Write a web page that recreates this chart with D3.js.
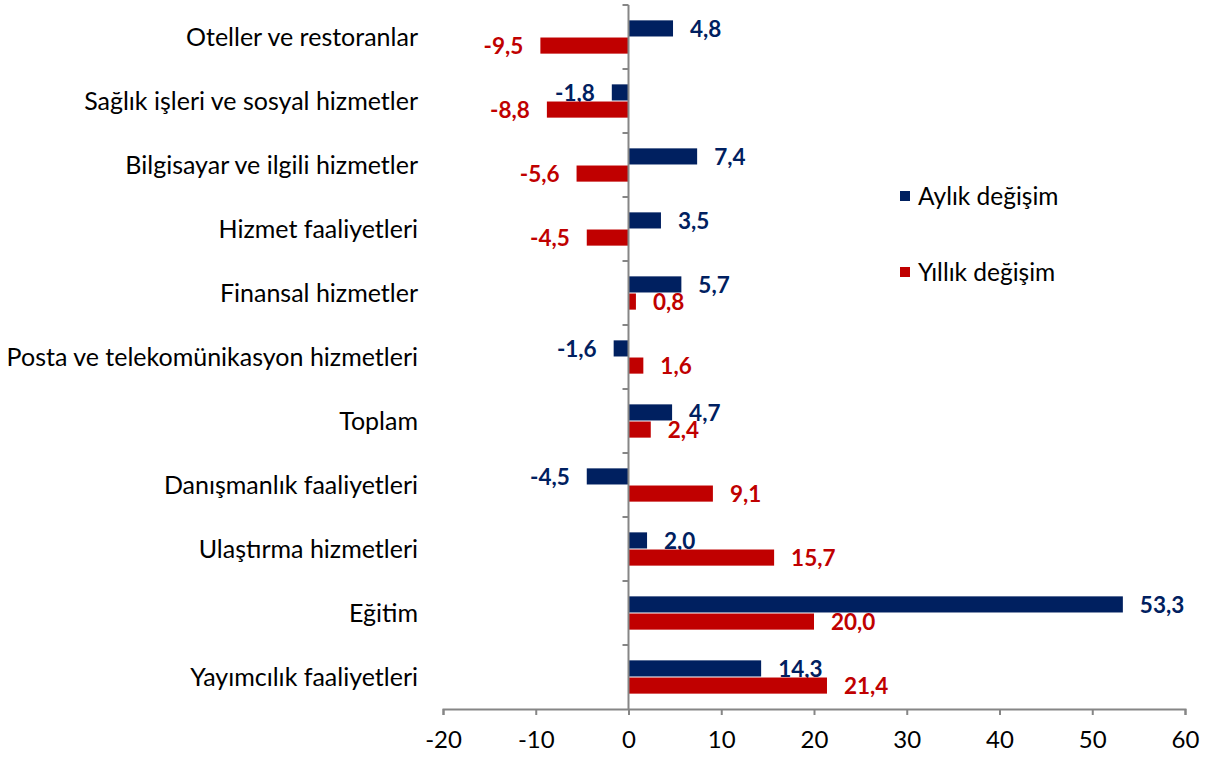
<!DOCTYPE html>
<html>
<head>
<meta charset="utf-8">
<script src="https://cdn.jsdelivr.net/npm/d3@7"></script>
<style>
  body { margin: 0; background: #fff; }
  svg { display: block; }
  text { font-family: Lato, "Open Sans", sans-serif; }
</style>
</head>
<body>
<svg id="chart"></svg>
<script>
const WIDTH = 1210;
const HEIGHT = 758;

const categories = [
  "Oteller ve restoranlar",
  "Sağlık işleri ve sosyal hizmetler",
  "Bilgisayar ve ilgili hizmetler",
  "Hizmet faaliyetleri",
  "Finansal hizmetler",
  "Posta ve telekomünikasyon hizmetleri",
  "Toplam",
  "Danışmanlık faaliyetleri",
  "Ulaştırma hizmetleri",
  "Eğitim",
  "Yayımcılık faaliyetleri"
];
const aylik = [4.8, -1.8, 7.4, 3.5, 5.7, -1.6, 4.7, -4.5, 2.0, 53.3, 14.3];
const yillik = [-9.5, -8.8, -5.6, -4.5, 0.8, 1.6, 2.4, 9.1, 15.7, 20.0, 21.4];
const seriesNames = ["Aylık değişim", "Yıllık değişim"];
const colors = ["#002060", "#C00000"];
const xTicks = [-20, -10, 0, 10, 20, 30, 40, 50, 60];

const svg = d3.select("#chart").attr("width", WIDTH).attr("height", HEIGHT);
const margin = { top: 5, right: 25, bottom: 49, left: 443 };

const x = d3.scaleLinear().domain([-20, 60]).range([margin.left, WIDTH - margin.right]);
const y = d3.scaleBand().domain(categories).range([margin.top, HEIGHT - margin.bottom]);
const ySub = d3.scaleBand().domain([0, 1]).range([y.bandwidth() * 0.24, y.bandwidth() * 0.76]).paddingInner(0.06);

const rows = categories.map((c, i) => ({ cat: c, vals: [aylik[i], yillik[i]] }));
const fmt = (v) => v.toFixed(1).replace(".", ",");

// bars + value labels
const g = svg.append("g");
rows.forEach((r) => {
  r.vals.forEach((v, s) => {
    const y0 = y(r.cat) + ySub(s);
    g.append("rect")
      .attr("x", x(Math.min(0, v)))
      .attr("y", y0)
      .attr("width", Math.abs(x(v) - x(0)))
      .attr("height", ySub.bandwidth())
      .attr("fill", colors[s]);
    g.append("text")
      .attr("x", v >= 0 ? x(v) + 17 : x(v) - 17)
      .attr("y", y0 + ySub.bandwidth() / 2)
      .attr("dy", "0.36em")
      .attr("text-anchor", v >= 0 ? "start" : "end")
      .attr("font-size", "22.5px")
      .attr("font-weight", "bold")
      .attr("fill", colors[s])
      .text(fmt(v));
  });
});

// x axis
const xAxis = svg.append("g")
  .attr("transform", `translate(0, ${HEIGHT - margin.bottom})`)
  .call(d3.axisBottom(x).tickValues(xTicks).tickSize(6).tickPadding(16).tickFormat((d) => d));
xAxis.select(".domain").attr("stroke", "#868686").attr("stroke-width", 2);
xAxis.selectAll(".tick line").attr("stroke", "#868686").attr("stroke-width", 2);
xAxis.selectAll(".tick text").attr("font-size", "24px").attr("fill", "#000");

// y axis at zero
const yAxis = svg.append("g")
  .attr("transform", `translate(${x(0)}, 0)`);
yAxis.append("line")
  .attr("x1", 0).attr("x2", 0)
  .attr("y1", margin.top).attr("y2", HEIGHT - margin.bottom)
  .attr("stroke", "#868686").attr("stroke-width", 2);
yAxis.selectAll(".cat-tick")
  .data(categories)
  .join("line")
  .attr("x1", -6).attr("x2", 0)
  .attr("y1", (d) => y(d)).attr("y2", (d) => y(d))
  .attr("stroke", "#868686").attr("stroke-width", 2);

// category labels
svg.append("g")
  .selectAll("text")
  .data(categories)
  .join("text")
  .attr("x", margin.left - 25)
  .attr("y", (d) => y(d) + y.bandwidth() / 2)
  .attr("dy", "0.36em")
  .attr("text-anchor", "end")
  .attr("font-size", "25px")
  .attr("fill", "#000")
  .text((d) => d);

// legend
const legend = svg.append("g").attr("transform", "translate(900, 0)");
seriesNames.forEach((name, i) => {
  const ly = 196 + i * 76;
  legend.append("rect").attr("x", 0).attr("y", ly - 5).attr("width", 10).attr("height", 10).attr("fill", colors[i]);
  legend.append("text")
    .attr("x", 18).attr("y", ly)
    .attr("dy", "0.36em")
    .attr("font-size", "24.5px")
    .attr("fill", "#000")
    .text(name);
});
</script>
</body>
</html>
